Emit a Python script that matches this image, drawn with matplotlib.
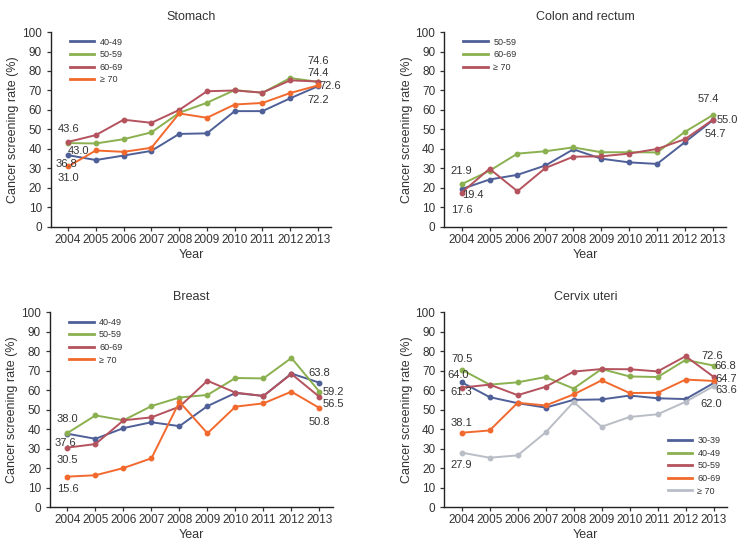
import matplotlib
matplotlib.use("Agg")
import matplotlib.pyplot as plt

plt.rcParams['font.family'] = ['Liberation Sans Narrow', 'Liberation Sans', 'DejaVu Sans']

years = [2004, 2005, 2006, 2007, 2008, 2009, 2010, 2011, 2012, 2013]

# Stomach
stomach_groups = ["40-49", "50-59", "60-69", "\u2265 70"]
stomach_4049 = [36.8, 34.3, 36.6, 39.0, 47.7, 48.0, 59.4, 59.4, 66.0, 72.2]
stomach_5059 = [43.0, 42.8, 45.0, 48.5, 58.5, 63.7, 70.2, 68.8, 76.4, 74.4]
stomach_6069 = [43.6, 47.1, 55.0, 53.4, 60.0, 69.6, 70.0, 68.9, 75.2, 74.6]
stomach_70 = [31.0, 39.2, 38.5, 40.6, 58.2, 56.0, 62.8, 63.6, 68.7, 72.6]

# Colon and rectum
colon_groups = ["50-59", "60-69", "\u2265 70"]
colon_5059 = [19.4, 24.3, 26.7, 31.5, 39.8, 35.0, 33.1, 32.3, 43.5, 54.7]
colon_6069 = [21.9, 28.8, 37.6, 38.8, 40.8, 38.3, 38.3, 38.2, 48.8, 57.4]
colon_70 = [17.6, 29.8, 18.3, 30.2, 36.0, 36.2, 37.6, 40.0, 45.0, 55.0]

# Breast
breast_groups = ["40-49", "50-59", "60-69", "\u2265 70"]
breast_4049 = [37.6, 35.0, 40.5, 43.5, 41.5, 51.8, 58.5, 57.0, 68.5, 63.8]
breast_5059 = [38.0, 47.0, 44.5, 51.8, 56.2, 57.5, 66.2, 66.0, 76.5, 59.2]
breast_6069 = [30.5, 32.3, 44.5, 46.0, 51.5, 64.8, 58.7, 57.0, 68.3, 56.5]
breast_70 = [15.6, 16.3, 20.0, 25.0, 54.0, 37.8, 51.5, 53.2, 59.2, 50.8]

# Cervix uteri
cervix_groups = ["30-39", "40-49", "50-59", "60-69", "\u2265 70"]
cervix_3039 = [64.0, 56.4, 53.3, 51.0, 55.0, 55.2, 57.2, 55.8, 55.4, 63.6]
cervix_4049 = [70.5, 62.8, 64.0, 66.7, 60.8, 70.8, 67.0, 66.7, 75.5, 72.6]
cervix_5059 = [61.3, 62.8, 57.4, 61.7, 69.5, 70.8, 70.7, 69.6, 77.4, 66.8]
cervix_6069 = [38.1, 39.3, 53.5, 52.1, 57.8, 65.0, 58.5, 58.6, 65.4, 64.7]
cervix_70 = [27.9, 25.3, 26.5, 38.3, 53.9, 41.2, 46.2, 47.6, 54.0, 62.0]

BLUE = "#4f5f98"
GREEN = "#8bb04f"
RED = "#b4525d"
ORANGE = "#f2692d"
GRAY = "#b9bdc6"
TXT = "#333333"


def panel(rect, title, series, labels, colors, notes, legend_loc, legend_anchor):
    ax = fig.add_axes(rect)
    for vals, lab, col in zip(series, labels, colors):
        ax.plot(years, vals, color=col, lw=1.4, marker="o", ms=3.2, label=lab)
    # labels at first and last year: (series index, year index, dx, dy) in pixels
    for si, yi, dx, dy in notes:
        v = series[si][yi]
        ax.annotate("%.1f" % v, (years[yi], v), xytext=(dx, dy),
                    textcoords="offset pixels", ha="center", va="center",
                    fontsize=8, color=TXT)
    ax.set_xlim(2003.38, 2013.48)
    ax.set_ylim(0, 100)
    ax.set_xticks(years)
    ax.set_yticks(range(0, 101, 10))
    ax.tick_params(labelsize=8.5, colors=TXT, length=3, width=0.9)
    ax.tick_params(axis="x", pad=2)
    for s in ["top", "right"]:
        ax.spines[s].set_visible(False)
    for s in ["left", "bottom"]:
        ax.spines[s].set_linewidth(1.0)
        ax.spines[s].set_color("#222222")
    ax.set_xlabel("Year", fontsize=9, color=TXT, labelpad=2)
    ax.set_ylabel("Cancer screening rate (%)", fontsize=9, color=TXT, labelpad=2)
    ax.set_title(title, fontsize=9, color=TXT, pad=9)
    leg = ax.legend(loc=legend_loc, bbox_to_anchor=legend_anchor, frameon=False,
                    fontsize=6.5, handlelength=2.7, handletextpad=0.6,
                    labelspacing=0.4, borderaxespad=0)
    for h in leg.get_lines():
        h.set_marker("")
        h.set_linewidth(2.0)
    for t in leg.get_texts():
        t.set_color(TXT)
    return ax


fig = plt.figure(figsize=(7.48, 5.52), dpi=100)

panel([0.068, 0.589, 0.375, 0.353], "Stomach",
      [stomach_4049, stomach_5059, stomach_6069, stomach_70], stomach_groups,
      [BLUE, GREEN, RED, ORANGE],
      [(2, 0, 0, 13), (1, 0, 10, -8), (0, 0, -2, -9), (3, 0, 0, -12),
       (2, 9, 0, 21), (1, 9, 0, 9), (3, 9, 12, -1), (0, 9, 0, -14)],
      "upper left", (0.055, 0.99))

panel([0.594, 0.589, 0.377, 0.353], "Colon and rectum",
      [colon_5059, colon_6069, colon_70], colon_groups,
      [BLUE, GREEN, RED],
      [(1, 0, 0, 13), (0, 0, 11, -6), (2, 0, 0, -17),
       (1, 9, -5, 16), (2, 9, 14, 0), (0, 9, 2, -14)],
      "upper left", (0.055, 0.99))

panel([0.067, 0.0815, 0.378, 0.353], "Breast",
      [breast_4049, breast_5059, breast_6069, breast_70], breast_groups,
      [BLUE, GREEN, RED, ORANGE],
      [(1, 0, 0, 14), (0, 0, -2, -9), (2, 0, 0, -12), (3, 0, 0, -12),
       (0, 9, 0, 10), (1, 9, 14, 0), (2, 9, 14, -7), (3, 9, 0, -14)],
      "upper left", (0.055, 0.99))

panel([0.594, 0.0815, 0.378, 0.353], "Cervix uteri",
      [cervix_3039, cervix_4049, cervix_5059, cervix_6069, cervix_70], cervix_groups,
      [BLUE, GREEN, RED, ORANGE, GRAY],
      [(1, 0, 0, 11), (0, 0, -4, 7), (2, 0, 0, -4), (3, 0, 0, 10), (4, 0, 0, -12),
       (1, 9, -1, 10), (2, 9, 12, 11), (3, 9, 13, 2), (0, 9, 13, -7), (4, 9, -2, -18)],
      "lower right", (0.99, 0.04))

fig.savefig("out.png", dpi=100)
